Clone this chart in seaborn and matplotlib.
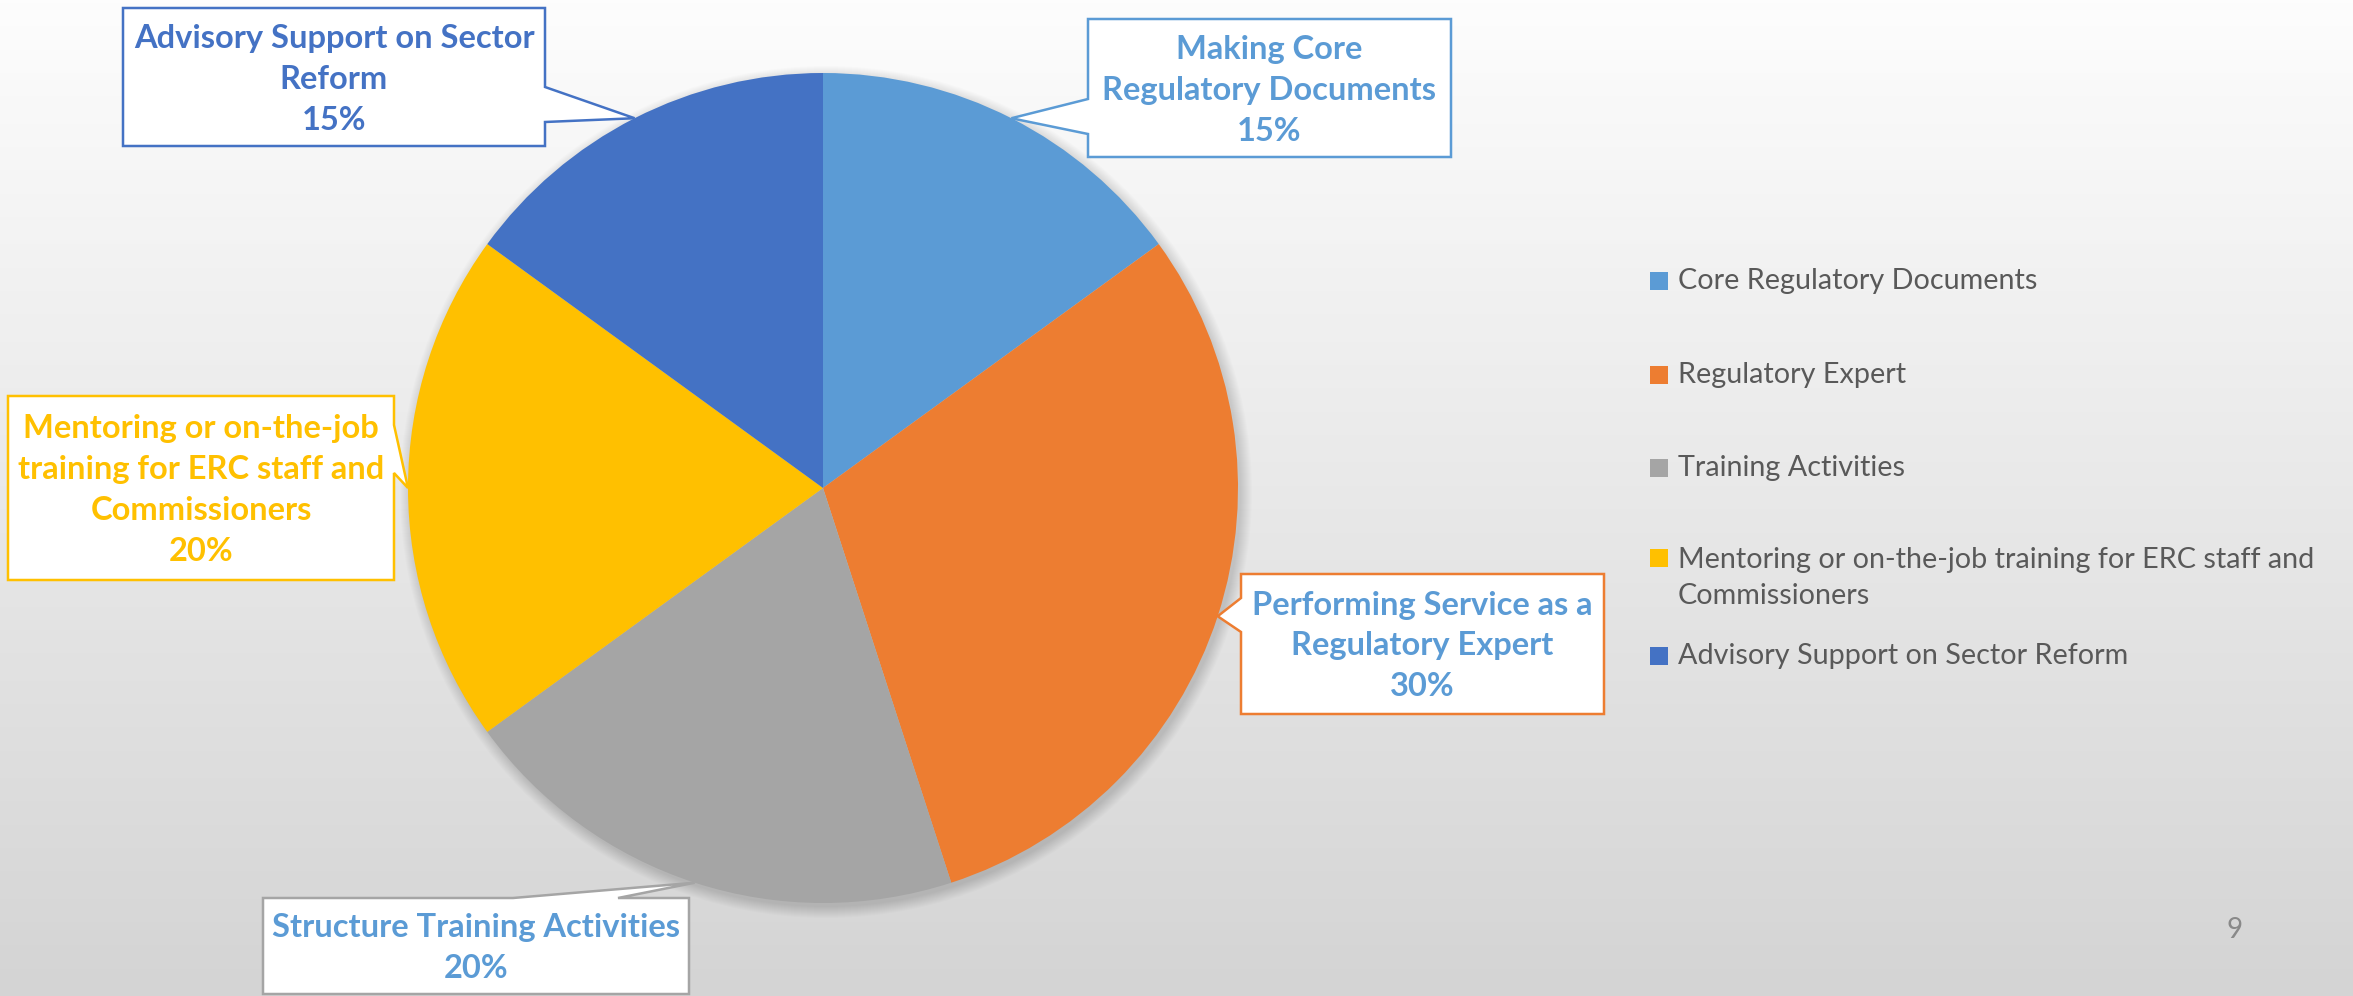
import numpy as np
import matplotlib
matplotlib.use("Agg")
import matplotlib.pyplot as plt
from matplotlib.patches import Polygon, Rectangle, Circle
import seaborn as sns

sns.set_theme(style="white")
plt.rcParams['font.family'] = ['Lato', 'DejaVu Sans']

# data
categories = ["Core Regulatory Documents", "Regulatory Expert", "Training Activities",
              "Mentoring or on-the-job training for ERC staff and\nCommissioners",
              "Advisory Support on Sector Reform"]
values = [15, 30, 20, 20, 15]
slice_labels = ["Making Core\nRegulatory Documents",
                "Performing Service as a\nRegulatory Expert",
                "Structure Training Activities",
                "Mentoring or on-the-job\ntraining for ERC staff and\nCommissioners",
                "Advisory Support on Sector\nReform"]
colors = sns.color_palette(["#5B9BD5", "#ED7D31", "#A5A5A5", "#FFC000", "#4472C4"])
label_colors = ["#5B9BD5", "#5B9BD5", "#5B9BD5", "#FFC000", "#4472C4"]
page_no = "9"

W, H = 2353, 996
CX, CY, R = 823, 508, 415

# callout boxes: x0, x1, y0, y1 (pixels, y up), side of pointer, pointer base
boxes = [
    (1088, 1451, 839, 977, "left", 862, 897),
    (1241, 1604, 282, 422, "left", 364, 398),
    (263, 689, 2, 98, "top", 513, 618),
    (8, 394, 416, 600, "right", 523, 571),
    (123, 545, 850, 988, "right", 874, 909),
]

fig = plt.figure(figsize=(W / 100, H / 100), dpi=100)

# background gradient
bg = fig.add_axes([0, 0, 1, 1])
grad = np.linspace(253, 212, 256)[:, None, None] / 255 * np.ones((1, 1, 3))
bg.imshow(grad, aspect="auto", extent=[0, 1, 0, 1])
bg.axis("off")

ax = fig.add_axes([0, 0, 1, 1])
ax.patch.set_alpha(0)

# soft shadow
for i in range(12):
    ax.add_patch(Circle((CX + 3, CY - 4), R + i * 1.0, color="black", alpha=0.012, lw=0, zorder=0))

ax.pie(values, colors=colors, startangle=90, counterclock=False, center=(CX, CY),
       radius=R, wedgeprops=dict(linewidth=0))
ax.set_xlim(0, W)
ax.set_ylim(0, H)
ax.axis("off")

total = sum(values)
cum = np.cumsum([0] + values[:-1])
for i, v in enumerate(values):
    theta = np.deg2rad(90 - 360 * (cum[i] + v / 2) / total)
    tip = (CX + R * np.cos(theta), CY + R * np.sin(theta))
    x0, x1, y0, y1, side, b0, b1 = boxes[i]
    if side == "right":
        pts = [(x0, y0), (x1, y0), (x1, b0), tip, (x1, b1), (x1, y1), (x0, y1)]
    elif side == "left":
        pts = [(x0, y0), (x1, y0), (x1, y1), (x0, y1), (x0, b1), tip, (x0, b0)]
    else:
        pts = [(x0, y0), (x1, y0), (x1, y1), (b1, y1), tip, (b0, y1), (x0, y1)]
    ax.add_patch(Polygon(pts, closed=True, facecolor="white", edgecolor=colors[i],
                         lw=1.8, zorder=5))
    ax.text((x0 + x1) / 2, (y0 + y1) / 2 - 2, f"{slice_labels[i]}\n{v / total:.0%}",
            ha="center", va="center", multialignment="center", fontsize=23.5,
            fontweight="bold", color=label_colors[i], linespacing=1.5, zorder=6)

# legend
leg_y = [715, 621, 528, 418, 340]
for i, name in enumerate(categories):
    ax.add_patch(Rectangle((1650, leg_y[i] + (20 if "\n" in name else 0) - 9), 18, 18,
                           color=colors[i], lw=0, zorder=5))
    ax.text(1678, leg_y[i], name, ha="left", va="center", fontsize=20.7,
            color="#595959", linespacing=1.5, zorder=6)

ax.text(2235, 66, page_no, ha="center", va="center", fontsize=20, color="#898989")

fig.savefig("out.png", dpi=100)
